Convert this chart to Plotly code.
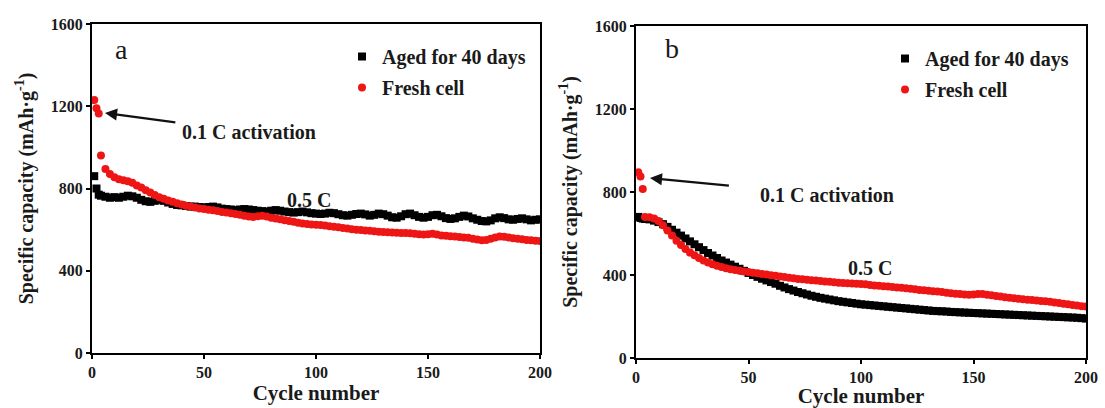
import plotly.graph_objects as go

# ---------------- data ----------------
cycles = [1, 2, 3] + list(range(4, 201, 2))

a_aged = [860, 800, 770,
          765, 760, 755, 758, 755, 760, 765, 762, 755, 745,
          738, 735, 740, 745, 740, 732, 725, 720, 718, 715,
          712, 712, 710, 708, 710, 712, 708, 702, 700, 698,
          695, 698, 700, 698, 695, 692, 690, 688, 692, 695,
          692, 688, 685, 683, 685, 688, 684, 680, 678, 676,
          678, 682, 680, 675, 670, 668, 672, 676, 678, 674,
          668, 672, 678, 675, 668, 660, 658, 665, 675, 678,
          670, 662, 658, 662, 670, 672, 665, 656, 652, 655,
          662, 668, 664, 655, 648, 642, 640, 645, 655, 660,
          656, 650, 648, 652, 655, 650, 645, 648, 650]

a_fresh = [1230, 1190, 1165,
           960, 895, 870, 855, 845, 840, 835, 828, 815, 805,
           792, 780, 768, 758, 750, 742, 735, 728, 722, 716,
           712, 708, 703, 700, 697, 694, 690, 686, 683, 680,
           676, 672, 668, 664, 662, 665, 668, 664, 658, 654,
           650, 646, 642, 638, 634, 630, 627, 625, 624, 622,
           620, 617, 614, 611, 608, 605, 602, 600, 598, 596,
           594, 592, 590, 588, 587, 586, 585, 584, 583, 582,
           580, 578, 576, 578, 580, 576, 572, 570, 568, 566,
           564, 562, 560, 556, 552, 548, 550, 556, 562, 566,
           565, 562, 558, 556, 553, 550, 548, 546, 545]

b_aged = [680, 675, 672,
          670, 668, 662, 655, 645, 632, 618, 604, 590, 576,
          562, 548, 534, 520, 506, 494, 482, 470, 460, 450,
          440, 430, 420, 410, 400, 391, 382, 374, 366, 358,
          348, 340, 332, 325, 318, 312, 306, 300, 295, 290,
          286, 282, 278, 274, 271, 268, 265, 262, 259, 257,
          255, 253, 251, 249, 247, 245, 243, 241, 239, 237,
          235, 233, 231, 229, 227, 226, 225, 224, 222, 221,
          220, 219, 218, 217, 216, 215, 214, 213, 212, 211,
          210, 209, 208, 207, 206, 205, 204, 203, 202, 201,
          200, 199, 198, 197, 196, 195, 194, 192, 190]

b_fresh = [895, 875, 815,
           680, 678, 672, 660, 640, 615, 590, 565, 545, 525,
           508, 495, 482, 470, 460, 452, 445, 438, 432, 428,
           424, 420, 417, 414, 411, 408, 405, 402, 399, 396,
           393, 390, 387, 384, 381, 379, 377, 375, 373, 371,
           369, 367, 365, 363, 361, 360, 359, 358, 357, 355,
           352, 350, 348, 346, 344, 342, 340, 338, 336, 334,
           331, 328, 326, 324, 322, 320, 318, 315, 312, 310,
           308, 306, 305, 306, 308, 308, 305, 302, 299, 296,
           293, 290, 288, 285, 283, 281, 279, 277, 275, 273,
           271, 268, 265, 262, 259, 256, 253, 250, 248]

series_names = ["Aged for 40 days", "Fresh cell"]
x_ticks = [0, 50, 100, 150, 200]
y_ticks = [0, 400, 800, 1200, 1600]

FONT = "Liberation Serif"
BLACK = "#000000"
RED = "#ee1515"
TXT = "#1a1a1a"

fig = go.Figure()

def add_pair(aged, fresh, xa, ya, leg):
    fig.add_trace(go.Scatter(x=cycles, y=aged, mode="markers", name=series_names[0],
                             marker=dict(symbol="square", size=8, color=BLACK),
                             xaxis=xa, yaxis=ya, legend=leg, legendgroup="g0" + leg))
    fig.add_trace(go.Scatter(x=cycles, y=fresh, mode="markers", name=series_names[1],
                             marker=dict(symbol="circle", size=8, color=RED),
                             xaxis=xa, yaxis=ya, legend=leg, legendgroup="g1" + leg))

add_pair(a_aged, a_fresh, "x", "y", "legend")
add_pair(b_aged, b_fresh, "x2", "y2", "legend2")

W, H = 1105, 408
def xdom(l, r):
    return [l / W, r / W]
def ydom(b, t):
    return [(H - b) / H, (H - t) / H]

axis_common = dict(showline=True, linewidth=2, linecolor="black", mirror=True,
                   ticks="outside", ticklen=4, tickwidth=1.5, tickcolor="black",
                   showgrid=False, zeroline=False, automargin=False,
                   tickfont=dict(family=FONT, size=16, color=TXT, weight="bold"))

def xtitle(standoff):
    return dict(text="Cycle number",
                font=dict(family=FONT, size=21, color=TXT, weight="bold"),
                standoff=standoff)

ytitle = dict(text="Specific capacity (mAh·g<sup>-1</sup>)",
              font=dict(family=FONT, size=20, color=TXT, weight="bold"), standoff=12)

leg_font = dict(family=FONT, size=20, color=TXT, weight="bold")

fig.update_layout(
    width=W, height=H, margin=dict(l=0, r=0, t=0, b=0, autoexpand=False),
    paper_bgcolor="white", plot_bgcolor="white",
    xaxis=dict(domain=xdom(92, 540), range=[0, 200], tickvals=x_ticks,
               title=xtitle(3), anchor="y", **axis_common),
    yaxis=dict(domain=ydom(353, 24), range=[0, 1600], tickvals=y_ticks,
               title=ytitle, anchor="x", **axis_common),
    xaxis2=dict(domain=xdom(636, 1086), range=[0, 200], tickvals=x_ticks,
                title=xtitle(3), anchor="y2", **axis_common),
    yaxis2=dict(domain=ydom(358, 26), range=[0, 1600], tickvals=y_ticks,
                title=ytitle, anchor="x2", **axis_common),
    legend=dict(x=342 / W, y=(H - 37) / H, xanchor="left", yanchor="top",
                bgcolor="rgba(0,0,0,0)", itemwidth=30, tracegroupgap=2,
                font=leg_font),
    legend2=dict(x=885 / W, y=(H - 39) / H, xanchor="left", yanchor="top",
                 bgcolor="rgba(0,0,0,0)", itemwidth=30, tracegroupgap=2,
                 font=leg_font),
)

ann_font = dict(family=FONT, size=20, color=TXT, weight="bold")
annotations = [
    dict(text="a", x=13, y=1474, xref="x", yref="y", showarrow=False,
         font=dict(family=FONT, size=28, color=TXT)),
    dict(text="b", x=16, y=1494, xref="x2", yref="y2", showarrow=False,
         font=dict(family=FONT, size=28, color=TXT)),
    dict(text="0.1 C activation", x=5.8, y=1167, ax=70, ay=1075, xref="x", yref="y",
         axref="x", ayref="y", showarrow=True, arrowhead=2, arrowsize=1.1,
         arrowwidth=2.2, arrowcolor="#111", startstandoff=5, font=ann_font),
    dict(text="0.1 C activation", x=6.2, y=867, ax=85, ay=785, xref="x2", yref="y2",
         axref="x2", ayref="y2", showarrow=True, arrowhead=2, arrowsize=1.1,
         arrowwidth=2.2, arrowcolor="#111", startstandoff=30, font=ann_font),
    dict(text="0.5 C", x=97, y=744, xref="x", yref="y",
         showarrow=False, font=ann_font),
    dict(text="0.5 C", x=104, y=434, xref="x2", yref="y2",
         showarrow=False, font=ann_font),
]
fig.update_layout(annotations=annotations)

fig.write_html("out.html", config={"displayModeBar": False},
               post_script="document.body.style.margin='0';document.body.style.overflow='hidden';")
